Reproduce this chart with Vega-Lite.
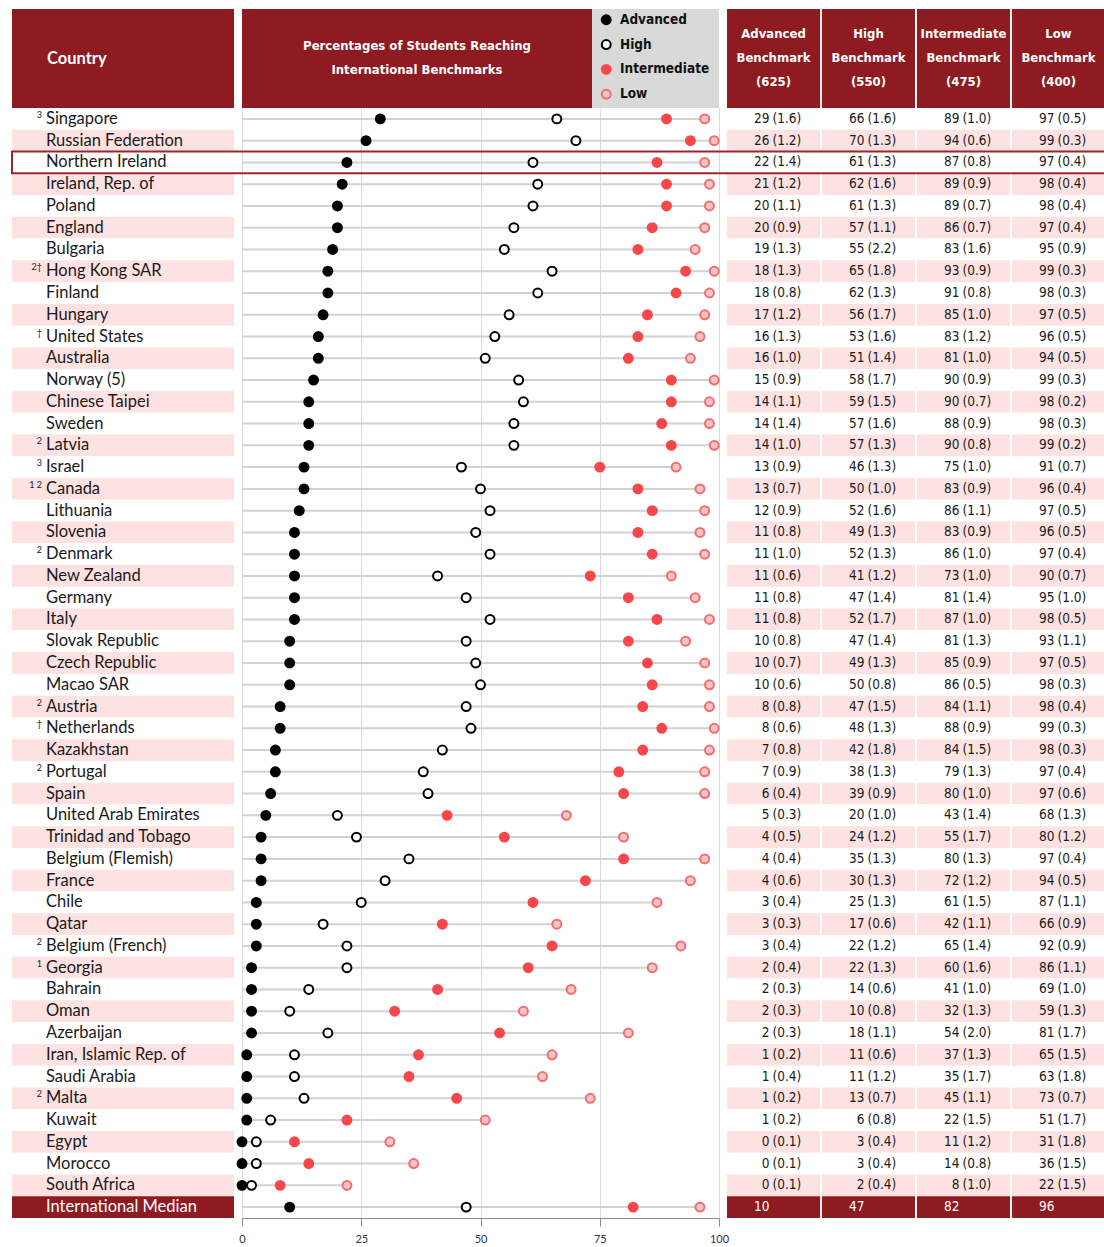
{
"$schema": "https://vega.github.io/schema/vega-lite/v6.json",
"padding": {"left": 11, "top": 9, "right": 0, "bottom": 0},
"background": "white",
"config": {"view": {"stroke": null}},
"datasets": {
"countries": [
{"c":"Singapore","s":"3"},{"c":"Russian Federation"},{"c":"Northern Ireland"},{"c":"Ireland, Rep. of"},{"c":"Poland"},{"c":"England"},{"c":"Bulgaria"},{"c":"Hong Kong SAR","s":"2†"},{"c":"Finland"},{"c":"Hungary"},{"c":"United States","s":"†"},{"c":"Australia"},{"c":"Norway (5)"},{"c":"Chinese Taipei"},{"c":"Sweden"},{"c":"Latvia","s":"2"},{"c":"Israel","s":"3"},{"c":"Canada","s":"1 2"},{"c":"Lithuania"},{"c":"Slovenia"},{"c":"Denmark","s":"2"},{"c":"New Zealand"},{"c":"Germany"},{"c":"Italy"},{"c":"Slovak Republic"},{"c":"Czech Republic"},{"c":"Macao SAR"},{"c":"Austria","s":"2"},{"c":"Netherlands","s":"†"},{"c":"Kazakhstan"},{"c":"Portugal","s":"2"},{"c":"Spain"},{"c":"United Arab Emirates"},{"c":"Trinidad and Tobago"},{"c":"Belgium (Flemish)"},{"c":"France"},{"c":"Chile"},{"c":"Qatar"},{"c":"Belgium (French)","s":"2"},{"c":"Georgia","s":"1"},{"c":"Bahrain"},{"c":"Oman"},{"c":"Azerbaijan"},{"c":"Iran, Islamic Rep. of"},{"c":"Saudi Arabia"},{"c":"Malta","s":"2"},{"c":"Kuwait"},{"c":"Egypt"},{"c":"Morocco"},{"c":"South Africa"},{"c":"International Median"}
],
"bench": [
{"c":"Singapore","b":"Advanced","p":29,"se":1.6},{"c":"Singapore","b":"High","p":66,"se":1.6},{"c":"Singapore","b":"Intermediate","p":89,"se":1.0},{"c":"Singapore","b":"Low","p":97,"se":0.5},
{"c":"Russian Federation","b":"Advanced","p":26,"se":1.2},{"c":"Russian Federation","b":"High","p":70,"se":1.3},{"c":"Russian Federation","b":"Intermediate","p":94,"se":0.6},{"c":"Russian Federation","b":"Low","p":99,"se":0.3},
{"c":"Northern Ireland","b":"Advanced","p":22,"se":1.4},{"c":"Northern Ireland","b":"High","p":61,"se":1.3},{"c":"Northern Ireland","b":"Intermediate","p":87,"se":0.8},{"c":"Northern Ireland","b":"Low","p":97,"se":0.4},
{"c":"Ireland, Rep. of","b":"Advanced","p":21,"se":1.2},{"c":"Ireland, Rep. of","b":"High","p":62,"se":1.6},{"c":"Ireland, Rep. of","b":"Intermediate","p":89,"se":0.9},{"c":"Ireland, Rep. of","b":"Low","p":98,"se":0.4},
{"c":"Poland","b":"Advanced","p":20,"se":1.1},{"c":"Poland","b":"High","p":61,"se":1.3},{"c":"Poland","b":"Intermediate","p":89,"se":0.7},{"c":"Poland","b":"Low","p":98,"se":0.4},
{"c":"England","b":"Advanced","p":20,"se":0.9},{"c":"England","b":"High","p":57,"se":1.1},{"c":"England","b":"Intermediate","p":86,"se":0.7},{"c":"England","b":"Low","p":97,"se":0.4},
{"c":"Bulgaria","b":"Advanced","p":19,"se":1.3},{"c":"Bulgaria","b":"High","p":55,"se":2.2},{"c":"Bulgaria","b":"Intermediate","p":83,"se":1.6},{"c":"Bulgaria","b":"Low","p":95,"se":0.9},
{"c":"Hong Kong SAR","b":"Advanced","p":18,"se":1.3},{"c":"Hong Kong SAR","b":"High","p":65,"se":1.8},{"c":"Hong Kong SAR","b":"Intermediate","p":93,"se":0.9},{"c":"Hong Kong SAR","b":"Low","p":99,"se":0.3},
{"c":"Finland","b":"Advanced","p":18,"se":0.8},{"c":"Finland","b":"High","p":62,"se":1.3},{"c":"Finland","b":"Intermediate","p":91,"se":0.8},{"c":"Finland","b":"Low","p":98,"se":0.3},
{"c":"Hungary","b":"Advanced","p":17,"se":1.2},{"c":"Hungary","b":"High","p":56,"se":1.7},{"c":"Hungary","b":"Intermediate","p":85,"se":1.0},{"c":"Hungary","b":"Low","p":97,"se":0.5},
{"c":"United States","b":"Advanced","p":16,"se":1.3},{"c":"United States","b":"High","p":53,"se":1.6},{"c":"United States","b":"Intermediate","p":83,"se":1.2},{"c":"United States","b":"Low","p":96,"se":0.5},
{"c":"Australia","b":"Advanced","p":16,"se":1.0},{"c":"Australia","b":"High","p":51,"se":1.4},{"c":"Australia","b":"Intermediate","p":81,"se":1.0},{"c":"Australia","b":"Low","p":94,"se":0.5},
{"c":"Norway (5)","b":"Advanced","p":15,"se":0.9},{"c":"Norway (5)","b":"High","p":58,"se":1.7},{"c":"Norway (5)","b":"Intermediate","p":90,"se":0.9},{"c":"Norway (5)","b":"Low","p":99,"se":0.3},
{"c":"Chinese Taipei","b":"Advanced","p":14,"se":1.1},{"c":"Chinese Taipei","b":"High","p":59,"se":1.5},{"c":"Chinese Taipei","b":"Intermediate","p":90,"se":0.7},{"c":"Chinese Taipei","b":"Low","p":98,"se":0.2},
{"c":"Sweden","b":"Advanced","p":14,"se":1.4},{"c":"Sweden","b":"High","p":57,"se":1.6},{"c":"Sweden","b":"Intermediate","p":88,"se":0.9},{"c":"Sweden","b":"Low","p":98,"se":0.3},
{"c":"Latvia","b":"Advanced","p":14,"se":1.0},{"c":"Latvia","b":"High","p":57,"se":1.3},{"c":"Latvia","b":"Intermediate","p":90,"se":0.8},{"c":"Latvia","b":"Low","p":99,"se":0.2},
{"c":"Israel","b":"Advanced","p":13,"se":0.9},{"c":"Israel","b":"High","p":46,"se":1.3},{"c":"Israel","b":"Intermediate","p":75,"se":1.0},{"c":"Israel","b":"Low","p":91,"se":0.7},
{"c":"Canada","b":"Advanced","p":13,"se":0.7},{"c":"Canada","b":"High","p":50,"se":1.0},{"c":"Canada","b":"Intermediate","p":83,"se":0.9},{"c":"Canada","b":"Low","p":96,"se":0.4},
{"c":"Lithuania","b":"Advanced","p":12,"se":0.9},{"c":"Lithuania","b":"High","p":52,"se":1.6},{"c":"Lithuania","b":"Intermediate","p":86,"se":1.1},{"c":"Lithuania","b":"Low","p":97,"se":0.5},
{"c":"Slovenia","b":"Advanced","p":11,"se":0.8},{"c":"Slovenia","b":"High","p":49,"se":1.3},{"c":"Slovenia","b":"Intermediate","p":83,"se":0.9},{"c":"Slovenia","b":"Low","p":96,"se":0.5},
{"c":"Denmark","b":"Advanced","p":11,"se":1.0},{"c":"Denmark","b":"High","p":52,"se":1.3},{"c":"Denmark","b":"Intermediate","p":86,"se":1.0},{"c":"Denmark","b":"Low","p":97,"se":0.4},
{"c":"New Zealand","b":"Advanced","p":11,"se":0.6},{"c":"New Zealand","b":"High","p":41,"se":1.2},{"c":"New Zealand","b":"Intermediate","p":73,"se":1.0},{"c":"New Zealand","b":"Low","p":90,"se":0.7},
{"c":"Germany","b":"Advanced","p":11,"se":0.8},{"c":"Germany","b":"High","p":47,"se":1.4},{"c":"Germany","b":"Intermediate","p":81,"se":1.4},{"c":"Germany","b":"Low","p":95,"se":1.0},
{"c":"Italy","b":"Advanced","p":11,"se":0.8},{"c":"Italy","b":"High","p":52,"se":1.7},{"c":"Italy","b":"Intermediate","p":87,"se":1.0},{"c":"Italy","b":"Low","p":98,"se":0.5},
{"c":"Slovak Republic","b":"Advanced","p":10,"se":0.8},{"c":"Slovak Republic","b":"High","p":47,"se":1.4},{"c":"Slovak Republic","b":"Intermediate","p":81,"se":1.3},{"c":"Slovak Republic","b":"Low","p":93,"se":1.1},
{"c":"Czech Republic","b":"Advanced","p":10,"se":0.7},{"c":"Czech Republic","b":"High","p":49,"se":1.3},{"c":"Czech Republic","b":"Intermediate","p":85,"se":0.9},{"c":"Czech Republic","b":"Low","p":97,"se":0.5},
{"c":"Macao SAR","b":"Advanced","p":10,"se":0.6},{"c":"Macao SAR","b":"High","p":50,"se":0.8},{"c":"Macao SAR","b":"Intermediate","p":86,"se":0.5},{"c":"Macao SAR","b":"Low","p":98,"se":0.3},
{"c":"Austria","b":"Advanced","p":8,"se":0.8},{"c":"Austria","b":"High","p":47,"se":1.5},{"c":"Austria","b":"Intermediate","p":84,"se":1.1},{"c":"Austria","b":"Low","p":98,"se":0.4},
{"c":"Netherlands","b":"Advanced","p":8,"se":0.6},{"c":"Netherlands","b":"High","p":48,"se":1.3},{"c":"Netherlands","b":"Intermediate","p":88,"se":0.9},{"c":"Netherlands","b":"Low","p":99,"se":0.3},
{"c":"Kazakhstan","b":"Advanced","p":7,"se":0.8},{"c":"Kazakhstan","b":"High","p":42,"se":1.8},{"c":"Kazakhstan","b":"Intermediate","p":84,"se":1.5},{"c":"Kazakhstan","b":"Low","p":98,"se":0.3},
{"c":"Portugal","b":"Advanced","p":7,"se":0.9},{"c":"Portugal","b":"High","p":38,"se":1.3},{"c":"Portugal","b":"Intermediate","p":79,"se":1.3},{"c":"Portugal","b":"Low","p":97,"se":0.4},
{"c":"Spain","b":"Advanced","p":6,"se":0.4},{"c":"Spain","b":"High","p":39,"se":0.9},{"c":"Spain","b":"Intermediate","p":80,"se":1.0},{"c":"Spain","b":"Low","p":97,"se":0.6},
{"c":"United Arab Emirates","b":"Advanced","p":5,"se":0.3},{"c":"United Arab Emirates","b":"High","p":20,"se":1.0},{"c":"United Arab Emirates","b":"Intermediate","p":43,"se":1.4},{"c":"United Arab Emirates","b":"Low","p":68,"se":1.3},
{"c":"Trinidad and Tobago","b":"Advanced","p":4,"se":0.5},{"c":"Trinidad and Tobago","b":"High","p":24,"se":1.2},{"c":"Trinidad and Tobago","b":"Intermediate","p":55,"se":1.7},{"c":"Trinidad and Tobago","b":"Low","p":80,"se":1.2},
{"c":"Belgium (Flemish)","b":"Advanced","p":4,"se":0.4},{"c":"Belgium (Flemish)","b":"High","p":35,"se":1.3},{"c":"Belgium (Flemish)","b":"Intermediate","p":80,"se":1.3},{"c":"Belgium (Flemish)","b":"Low","p":97,"se":0.4},
{"c":"France","b":"Advanced","p":4,"se":0.6},{"c":"France","b":"High","p":30,"se":1.3},{"c":"France","b":"Intermediate","p":72,"se":1.2},{"c":"France","b":"Low","p":94,"se":0.5},
{"c":"Chile","b":"Advanced","p":3,"se":0.4},{"c":"Chile","b":"High","p":25,"se":1.3},{"c":"Chile","b":"Intermediate","p":61,"se":1.5},{"c":"Chile","b":"Low","p":87,"se":1.1},
{"c":"Qatar","b":"Advanced","p":3,"se":0.3},{"c":"Qatar","b":"High","p":17,"se":0.6},{"c":"Qatar","b":"Intermediate","p":42,"se":1.1},{"c":"Qatar","b":"Low","p":66,"se":0.9},
{"c":"Belgium (French)","b":"Advanced","p":3,"se":0.4},{"c":"Belgium (French)","b":"High","p":22,"se":1.2},{"c":"Belgium (French)","b":"Intermediate","p":65,"se":1.4},{"c":"Belgium (French)","b":"Low","p":92,"se":0.9},
{"c":"Georgia","b":"Advanced","p":2,"se":0.4},{"c":"Georgia","b":"High","p":22,"se":1.3},{"c":"Georgia","b":"Intermediate","p":60,"se":1.6},{"c":"Georgia","b":"Low","p":86,"se":1.1},
{"c":"Bahrain","b":"Advanced","p":2,"se":0.3},{"c":"Bahrain","b":"High","p":14,"se":0.6},{"c":"Bahrain","b":"Intermediate","p":41,"se":1.0},{"c":"Bahrain","b":"Low","p":69,"se":1.0},
{"c":"Oman","b":"Advanced","p":2,"se":0.3},{"c":"Oman","b":"High","p":10,"se":0.8},{"c":"Oman","b":"Intermediate","p":32,"se":1.3},{"c":"Oman","b":"Low","p":59,"se":1.3},
{"c":"Azerbaijan","b":"Advanced","p":2,"se":0.3},{"c":"Azerbaijan","b":"High","p":18,"se":1.1},{"c":"Azerbaijan","b":"Intermediate","p":54,"se":2.0},{"c":"Azerbaijan","b":"Low","p":81,"se":1.7},
{"c":"Iran, Islamic Rep. of","b":"Advanced","p":1,"se":0.2},{"c":"Iran, Islamic Rep. of","b":"High","p":11,"se":0.6},{"c":"Iran, Islamic Rep. of","b":"Intermediate","p":37,"se":1.3},{"c":"Iran, Islamic Rep. of","b":"Low","p":65,"se":1.5},
{"c":"Saudi Arabia","b":"Advanced","p":1,"se":0.4},{"c":"Saudi Arabia","b":"High","p":11,"se":1.2},{"c":"Saudi Arabia","b":"Intermediate","p":35,"se":1.7},{"c":"Saudi Arabia","b":"Low","p":63,"se":1.8},
{"c":"Malta","b":"Advanced","p":1,"se":0.2},{"c":"Malta","b":"High","p":13,"se":0.7},{"c":"Malta","b":"Intermediate","p":45,"se":1.1},{"c":"Malta","b":"Low","p":73,"se":0.7},
{"c":"Kuwait","b":"Advanced","p":1,"se":0.2},{"c":"Kuwait","b":"High","p":6,"se":0.8},{"c":"Kuwait","b":"Intermediate","p":22,"se":1.5},{"c":"Kuwait","b":"Low","p":51,"se":1.7},
{"c":"Egypt","b":"Advanced","p":0,"se":0.1},{"c":"Egypt","b":"High","p":3,"se":0.4},{"c":"Egypt","b":"Intermediate","p":11,"se":1.2},{"c":"Egypt","b":"Low","p":31,"se":1.8},
{"c":"Morocco","b":"Advanced","p":0,"se":0.1},{"c":"Morocco","b":"High","p":3,"se":0.4},{"c":"Morocco","b":"Intermediate","p":14,"se":0.8},{"c":"Morocco","b":"Low","p":36,"se":1.5},
{"c":"South Africa","b":"Advanced","p":0,"se":0.1},{"c":"South Africa","b":"High","p":2,"se":0.4},{"c":"South Africa","b":"Intermediate","p":8,"se":1.0},{"c":"South Africa","b":"Low","p":22,"se":1.5},
{"c":"International Median","b":"Advanced","p":10},{"c":"International Median","b":"High","p":47},{"c":"International Median","b":"Intermediate","p":82},{"c":"International Median","b":"Low","p":96}
]
},
"spacing": 0,
"vconcat": [
{
"spacing": 8,
"hconcat": [
{
"width": 222, "height": 99,
"view": {"fill": "#8f1b22", "stroke": null},
"data": {"values": [{"t": "Country"}]},
"mark": {"type": "text", "align": "left", "baseline": "middle", "dx": -76, "font": "Lato", "fontWeight": "bold", "fontSize": 16.5, "color": "#ffffff"},
"encoding": {"text": {"field": "t"}}
},
{
"bounds": "flush",
"spacing": 0,
"hconcat": [
{
"width": 350, "height": 99,
"view": {"fill": "#8f1b22", "stroke": null},
"data": {"values": [{"t": ["Percentages of Students Reaching", "International Benchmarks"]}]},
"mark": {"type": "text", "baseline": "middle", "dy": -13, "font": "DejaVu Sans Condensed, DejaVu Sans", "fontWeight": "bold", "fontSize": 13, "lineHeight": 24, "color": "#ffffff"},
"encoding": {"text": {"field": "t"}}
},
{
"width": 127, "height": 99,
"view": {"fill": "#d9d9d9", "stroke": null},
"data": {"values": [{"b": "Advanced"}, {"b": "High"}, {"b": "Intermediate"}, {"b": "Low"}]},
"mark": {"type": "circle", "opacity": 0, "size": 75, "strokeWidth": 2},
"encoding": {
  "fill": {"field": "b", "type": "nominal", "scale": {"domain": ["Advanced", "High", "Intermediate", "Low"], "range": ["#000000", "#ffffff", "#f8474b", "#fcc5c5"]},
    "legend": {"title": null, "orient": "none", "legendX": 587.5, "legendY": 4, "direction": "vertical", "symbolType": "circle", "symbolSize": 80, "symbolStrokeWidth": 2, "symbolOpacity": 1, "labelFont": "DejaVu Sans Condensed, DejaVu Sans", "labelFontWeight": "bold", "labelFontSize": 13.5, "labelColor": "#111111", "labelOffset": 7, "rowPadding": 6.8, "padding": 0}},
  "stroke": {"field": "b", "type": "nominal", "scale": {"domain": ["Advanced", "High", "Intermediate", "Low"], "range": ["#000000", "#000000", "#f8474b", "#f56c6e"]},
    "legend": {"title": null, "orient": "none", "legendX": 587.5, "legendY": 4, "direction": "vertical", "symbolType": "circle", "symbolSize": 80, "symbolStrokeWidth": 2, "symbolOpacity": 1, "labelFont": "DejaVu Sans Condensed, DejaVu Sans", "labelFontWeight": "bold", "labelFontSize": 13.5, "labelColor": "#111111", "labelOffset": 7, "rowPadding": 6.8, "padding": 0}}
}
}
]
},
{
"width": 378, "height": 99,
"data": {"values": [
{"b": "Advanced", "t": ["Advanced", "Benchmark", "(625)"]},
{"b": "High", "t": ["High", "Benchmark", "(550)"]},
{"b": "Intermediate", "t": ["Intermediate", "Benchmark", "(475)"]},
{"b": "Low", "t": ["Low", "Benchmark", "(400)"]}
]},
"encoding": {"x": {"field": "b", "type": "nominal", "scale": {"type": "band", "domain": ["Advanced", "High", "Intermediate", "Low"], "paddingInner": 0.02, "paddingOuter": 0}, "axis": null}},
"layer": [
{"mark": {"type": "rect", "color": "#8f1b22"}},
{"mark": {"type": "text", "baseline": "middle", "dy": -25, "font": "DejaVu Sans Condensed, DejaVu Sans", "fontWeight": "bold", "fontSize": 13, "lineHeight": 24, "color": "#ffffff"}, "encoding": {"text": {"field": "t"}}}
]
}
]
},
{
"bounds": "flush",
"spacing": 8,
"resolve": {"scale": {"y": "shared"}},
"hconcat": [
{
"width": 222, "height": 1110,
"data": {"name": "countries"},
"transform": [{"window": [{"op": "row_number", "as": "k"}]}],
"layer": [
{"mark": {"type": "rect"},
 "encoding": {
  "y": {"field": "c", "type": "nominal", "axis": null, "scale": {"type": "band", "paddingInner": 0, "paddingOuter": 0, "domain": ["Singapore","Russian Federation","Northern Ireland","Ireland, Rep. of","Poland","England","Bulgaria","Hong Kong SAR","Finland","Hungary","United States","Australia","Norway (5)","Chinese Taipei","Sweden","Latvia","Israel","Canada","Lithuania","Slovenia","Denmark","New Zealand","Germany","Italy","Slovak Republic","Czech Republic","Macao SAR","Austria","Netherlands","Kazakhstan","Portugal","Spain","United Arab Emirates","Trinidad and Tobago","Belgium (Flemish)","France","Chile","Qatar","Belgium (French)","Georgia","Bahrain","Oman","Azerbaijan","Iran, Islamic Rep. of","Saudi Arabia","Malta","Kuwait","Egypt","Morocco","South Africa","International Median"]}},
  "fill": {"condition": [{"test": "datum.c == 'International Median'", "value": "#8f1b22"}, {"test": "datum.k % 2 == 0", "value": "#fde2e1"}], "value": "#ffffff"}
 }},
{"mark": {"type": "text", "align": "left", "baseline": "middle", "dx": -77, "font": "Lato", "fontSize": 16.5},
 "encoding": {
  "y": {"field": "c", "type": "nominal", "axis": null},
  "text": {"field": "c"},
  "color": {"condition": {"test": "datum.c == 'International Median'", "value": "#ffffff"}, "value": "#1a1a1a"}
 }},
{"transform": [{"filter": "datum.s"}],
 "mark": {"type": "text", "align": "right", "baseline": "middle", "dx": -81, "dy": -4, "font": "Lato", "fontSize": 9, "color": "#1a1a1a"},
 "encoding": {"y": {"field": "c", "type": "nominal", "axis": null}, "text": {"field": "s"}}},
{"transform": [{"filter": "datum.c == 'Northern Ireland'"}],
 "mark": {"type": "rect", "fillOpacity": 0, "stroke": "#9a2730", "strokeWidth": 2, "strokeDash": [222, 21.765, 243.765, 0]},
 "encoding": {"y": {"field": "c", "type": "nominal", "axis": null}}}
]
},
{
"width": 477, "height": 1110,
"data": {"name": "bench"},
"layer": [
{"transform": [{"filter": "datum.b == 'Low'"}],
 "mark": {"type": "rule", "color": "#d2d2d2", "strokeWidth": 2},
 "encoding": {
  "x": {"field": "p", "type": "quantitative", "title": null, "scale": {"domain": [0, 100], "nice": false, "zero": false},
        "axis": {"values": [0, 25, 50, 75, 100], "grid": true, "gridColor": "#dadada", "title": null, "domainColor": "#8c8c8c", "tickColor": "#8c8c8c", "tickSize": 8, "labelFont": "Lato", "labelFontSize": 11, "labelColor": "#333333", "labelPadding": 7, "labelFlush": false, "labelOverlap": false}},
  "x2": {"datum": 0},
  "y": {"field": "c", "type": "nominal", "axis": null}
 }},
{"mark": {"type": "circle", "size": 80, "strokeWidth": 2, "opacity": 1},
 "encoding": {
  "x": {"field": "p", "type": "quantitative", "title": null},
  "y": {"field": "c", "type": "nominal", "axis": null},
  "fill": {"field": "b", "type": "nominal", "scale": {"domain": ["Advanced", "High", "Intermediate", "Low"], "range": ["#000000", "#ffffff", "#f8474b", "#fcc5c5"]}, "legend": null},
  "stroke": {"field": "b", "type": "nominal", "scale": {"domain": ["Advanced", "High", "Intermediate", "Low"], "range": ["#000000", "#000000", "#f8474b", "#f56c6e"]}, "legend": null}
 }},
{"transform": [{"filter": "datum.c == 'Northern Ireland' && datum.b == 'Low'"}],
 "mark": {"type": "rule", "color": "#9a2730", "strokeWidth": 2},
 "encoding": {
  "x": {"datum": -1.68, "type": "quantitative", "title": null},
  "x2": {"datum": 101.68},
  "y": {"field": "c", "type": "nominal", "bandPosition": 0, "axis": null}
 }},
{"transform": [{"filter": "datum.c == 'Northern Ireland' && datum.b == 'Low'"}],
 "mark": {"type": "rule", "color": "#9a2730", "strokeWidth": 2},
 "encoding": {
  "x": {"datum": -1.68, "type": "quantitative", "title": null},
  "x2": {"datum": 101.68},
  "y": {"field": "c", "type": "nominal", "bandPosition": 1, "axis": null}
 }}
]
},
{
"width": 378, "height": 1110,
"data": {"name": "bench"},
"transform": [{"window": [{"op": "row_number", "as": "k"}], "groupby": ["b"]}],
"layer": [
{"mark": {"type": "rect"},
 "encoding": {
  "x": {"field": "b", "type": "nominal", "axis": null, "scale": {"type": "band", "domain": ["Advanced", "High", "Intermediate", "Low"], "paddingInner": 0.02, "paddingOuter": 0}},
  "y": {"field": "c", "type": "nominal", "axis": null},
  "fill": {"condition": [{"test": "datum.c == 'International Median'", "value": "#8f1b22"}, {"test": "datum.k % 2 == 0", "value": "#fde2e1"}], "value": "#ffffff"}
 }},
{"mark": {"type": "text", "align": "right", "baseline": "middle", "dx": -4, "font": "DejaVu Sans Condensed, DejaVu Sans", "fontSize": 13.5},
 "encoding": {
  "x": {"field": "b", "type": "nominal", "axis": null},
  "y": {"field": "c", "type": "nominal", "axis": null},
  "text": {"field": "p", "type": "quantitative", "format": "d"},
  "color": {"condition": {"test": "datum.c == 'International Median'", "value": "#ffffff"}, "value": "#1a1a1a"}
 }},
{"transform": [{"filter": "isValid(datum.se)"}],
 "mark": {"type": "text", "align": "left", "baseline": "middle", "dx": -1, "font": "DejaVu Sans Condensed, DejaVu Sans", "fontSize": 13.5, "color": "#1a1a1a", "text": {"expr": "'(' + format(datum.se, '.1f') + ')'"}},
 "encoding": {
  "x": {"field": "b", "type": "nominal", "axis": null},
  "y": {"field": "c", "type": "nominal", "axis": null}
 }},
{"transform": [{"filter": "datum.c == 'Northern Ireland' && datum.b == 'Low'"}],
 "mark": {"type": "rect", "fillOpacity": 0, "stroke": "#9a2730", "strokeWidth": 2, "strokeDash": [777.765, 21.765]},
 "encoding": {"y": {"field": "c", "type": "nominal", "axis": null}}}
]
}
]
}
]
}
